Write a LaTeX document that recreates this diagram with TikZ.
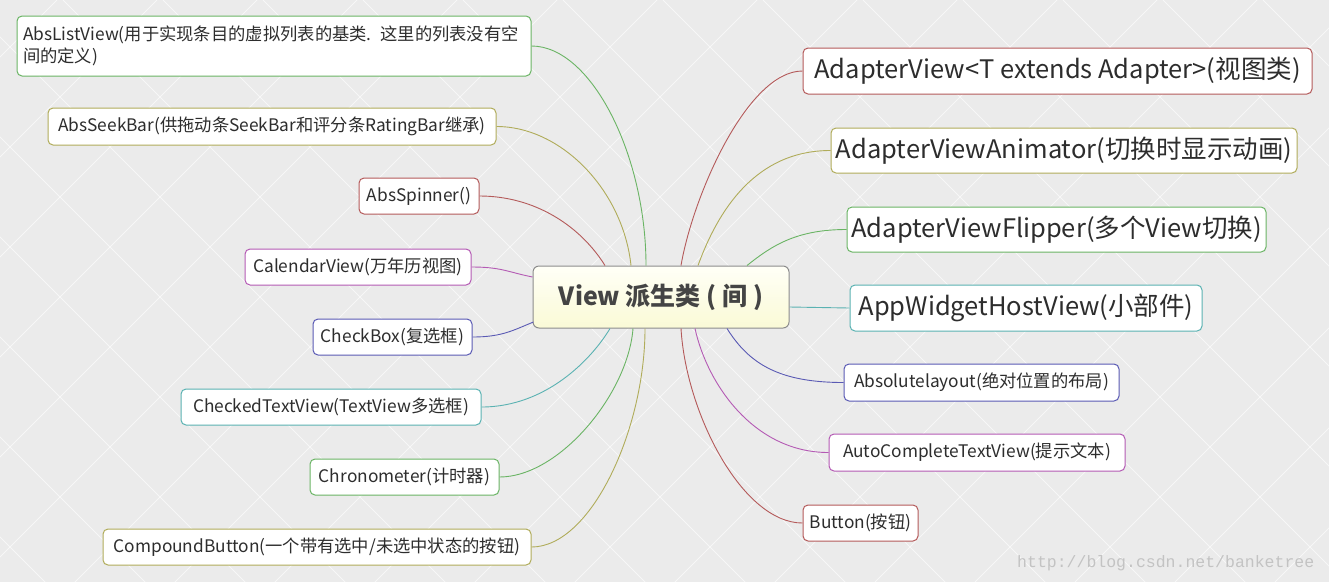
\documentclass[tikz,border=0pt]{standalone}
\usepackage{fontspec}
\setmainfont{Noto Sans CJK SC}
\newfontfamily\wmfont{Liberation Mono}
\usetikzlibrary{calc}
\definecolor{cgreen}{RGB}{106,180,100}
\definecolor{colive}{RGB}{176,172,90}
\definecolor{cred}{RGB}{180,90,90}
\definecolor{cmag}{RGB}{180,90,180}
\definecolor{cblue}{RGB}{90,90,180}
\definecolor{cteal}{RGB}{90,178,178}
\definecolor{txt}{RGB}{45,45,45}
\definecolor{bgc}{RGB}{235,235,235}
\tikzset{
  box/.style={draw, fill=white, rounded corners=5pt, line width=1pt, inner sep=0pt,
    text=txt, font=\fontsize{17.3}{22}\selectfont},
  big/.style={font=\fontsize{25.5}{30}\selectfont},
  conn/.style={line width=0.9pt},
  centerbox/.style={draw=gray!90, line width=1pt, rounded corners=6pt, top color=white!60!yellow!8, bottom color={rgb,255:red,250;green,250;blue,214},
    text={rgb,255:red,68;green,68;blue,68}, font=\fontsize{25}{28}\selectfont\bfseries, inner sep=0pt}
}
\begin{document}
\begin{tikzpicture}[x=1pt,y=-1pt]
\useasboundingbox (0,0) rectangle (1329,582);
\fill[bgc] (0,0) rectangle (1329,582);
\begin{scope}
\clip (0,0) rectangle (1329,582);
\foreach \c in {57,157,...,1957} \draw[white, opacity=0.6, line width=0.8pt] (\c,0) -- (\c-582,582);
\foreach \c in {-637,-537,...,1363} \draw[white, opacity=0.6, line width=0.8pt] (\c,0) -- (\c+582,582);
\end{scope}

% center
\node[centerbox, minimum width=256, minimum height=62] (c) at (661,297) {View 派生类 ( 间 )};

% left nodes
\node[box, draw=cgreen, minimum width=514, minimum height=60, text width=502, align=left] (lv) at (274,46) {AbsListView(用于实现条目的虚拟列表的基类. 这里的列表没有空\\间的定义)};
\node[box, draw=colive, minimum width=448, minimum height=37] (sb) at (272,126.5) {AbsSeekBar(供拖动条SeekBar和评分条RatingBar继承)};
\node[box, draw=cred, minimum width=120, minimum height=36] (sp) at (419,196) {AbsSpinner()};
\node[box, draw=cmag, minimum width=226, minimum height=36] (cv) at (358,267) {CalendarView(万年历视图)};
\node[box, draw=cblue, minimum width=159, minimum height=36] (cb) at (392.5,337) {CheckBox(复选框)};
\node[box, draw=cteal, minimum width=300, minimum height=36] (ct) at (331,407) {CheckedTextView(TextView多选框)};
\node[box, draw=cgreen, minimum width=189, minimum height=36] (ch) at (404.5,477) {Chronometer(计时器)};
\node[box, draw=colive, minimum width=428, minimum height=36] (cpb) at (317,547) {CompoundButton(一个带有选中/未选中状态的按钮)};

% right nodes
\node[box, big, draw=cred, minimum width=509, minimum height=46] (av) at (1057.5,71) {AdapterView<T extends Adapter>(视图类)};
\node[box, big, draw=colive, minimum width=466, minimum height=45] (ava) at (1064,150.5) {AdapterViewAnimator(切换时显示动画)};
\node[box, big, draw=cgreen, minimum width=419, minimum height=45] (avf) at (1056.5,229.5) {AdapterViewFlipper(多个View切换)};
\node[box, big, draw=cteal, minimum width=352, minimum height=46] (aw) at (1026,308) {AppWidgetHostView(小部件)};
\node[box, draw=cblue, minimum width=275, minimum height=37] (al) at (981.5,382.5) {Absolutelayout(绝对位置的布局)};
\node[box, draw=cmag, minimum width=296, minimum height=37] (ac) at (977,452.5) {AutoCompleteTextView(提示文本)};
\node[box, draw=cred, minimum width=115, minimum height=36] (bt) at (860.5,523) {Button(按钮)};

% connectors left
\draw[conn, cgreen] (lv.east) .. controls +(60,0) and +(0,-110) .. ($(c.north)+(-15,0)$);
\draw[conn, colive] (sb.east) .. controls +(65,0) and +(-8,-75) .. ($(c.north)+(-30,0)$);
\draw[conn, cred] (sp.east) .. controls +(55,0) and +(-25,-40) .. ($(c.north)+(-56,0)$);
\draw[conn, cmag] (cv.east) .. controls +(30,0) and +(-25,-5) .. ($(c.west)+(0,-20)$);
\draw[conn, cblue] (cb.east) .. controls +(30,0) and +(-20,8) .. ($(c.west)+(1,25)$);
\draw[conn, cteal] (ct.east) .. controls +(65,0) and +(-18,30) .. ($(c.south)+(-51,0)$);
\draw[conn, cgreen] (ch.east) .. controls +(60,0) and +(-5,65) .. ($(c.south)+(-28,0)$);
\draw[conn, colive] (cpb.east) .. controls +(60,0) and +(0,100) .. ($(c.south)+(-16,0)$);

% connectors right
\draw[conn, cred] (av.west) .. controls +(-55,0) and +(12,-70) .. ($(c.north)+(20,0)$);
\draw[conn, colive] (ava.west) .. controls +(-75,0) and +(20,-55) .. ($(c.north)+(37,0)$);
\draw[conn, cgreen] (avf.west) .. controls +(-50,0) and +(25,-20) .. ($(c.north)+(86,0)$);
\draw[conn, cteal] (aw.west) .. controls +(-30,0) and +(30,0) .. ($(c.east)+(0,10)$);
\draw[conn, cblue] (al.west) .. controls +(-65,0) and +(22,35) .. ($(c.south)+(66,0)$);
\draw[conn, cmag] (ac.west) .. controls +(-75,0) and +(12,55) .. ($(c.south)+(34,0)$);
\draw[conn, cred] (bt.west) .. controls +(-60,0) and +(5,85) .. ($(c.south)+(20,0)$);

% watermark
\node[text={rgb,255:red,195;green,195;blue,195}, font=\wmfont\fontsize{16.5}{18}\selectfont, anchor=west, inner sep=0pt] (wm) at (1017,563) {http://blog.csdn.net/banketree};
\end{tikzpicture}
\end{document}
